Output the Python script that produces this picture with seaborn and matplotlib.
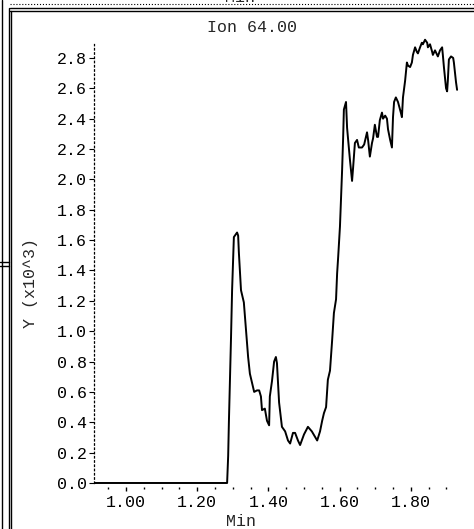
#!/usr/bin/env python
# coding=utf-8
import numpy as np
import matplotlib
matplotlib.use('Agg')
import matplotlib.pyplot as plt
from matplotlib.lines import Line2D
from matplotlib.ticker import MultipleLocator, FormatStrFormatter
import seaborn as sns


# retention time (min) and abundance (x10^3)
TIME = [0.910, 1.284, 1.287, 1.289, 1.295, 1.298, 1.303, 1.312, 1.315, 1.317,
        1.323, 1.331, 1.337, 1.343, 1.348, 1.354, 1.360, 1.368, 1.374, 1.379,
        1.382, 1.390, 1.396, 1.402, 1.404, 1.410, 1.416, 1.421, 1.424, 1.430,
        1.438, 1.447, 1.455, 1.461, 1.469, 1.475, 1.483, 1.489, 1.500, 1.511,
        1.522, 1.537, 1.545, 1.551, 1.556, 1.562, 1.567, 1.573, 1.579, 1.584,
        1.590, 1.593, 1.596, 1.601, 1.607, 1.610, 1.612, 1.618, 1.621, 1.624,
        1.629, 1.635, 1.638, 1.643, 1.649, 1.654, 1.663, 1.669, 1.677, 1.680,
        1.685, 1.691, 1.694, 1.699, 1.705, 1.708, 1.713, 1.719, 1.722, 1.728,
        1.733, 1.736, 1.742, 1.747, 1.750, 1.753, 1.758, 1.764, 1.772, 1.775,
        1.778, 1.784, 1.789, 1.792, 1.798, 1.803, 1.806, 1.812, 1.817, 1.820,
        1.826, 1.831, 1.834, 1.840, 1.846, 1.848, 1.854, 1.860, 1.862, 1.868,
        1.874, 1.876, 1.882, 1.888, 1.890, 1.893, 1.899, 1.902, 1.904, 1.907,
        1.913, 1.919, 1.921, 1.927, 1.930]
ABUND = [0.00, 0.00, 0.18, 0.40, 0.96, 1.27, 1.62, 1.65, 1.63, 1.52,
         1.27, 1.19, 1.01, 0.83, 0.72, 0.66, 0.60, 0.61, 0.61, 0.57,
         0.48, 0.49, 0.41, 0.38, 0.57, 0.67, 0.80, 0.83, 0.79, 0.53,
         0.37, 0.34, 0.28, 0.26, 0.33, 0.33, 0.28, 0.25, 0.32, 0.37,
         0.34, 0.28, 0.34, 0.41, 0.46, 0.50, 0.68, 0.74, 0.94, 1.12,
         1.21, 1.38, 1.49, 1.69, 2.06, 2.28, 2.46, 2.51, 2.34, 2.26,
         2.13, 1.99, 2.08, 2.24, 2.26, 2.21, 2.21, 2.23, 2.31, 2.26,
         2.15, 2.24, 2.27, 2.36, 2.28, 2.28, 2.39, 2.44, 2.40, 2.42,
         2.40, 2.33, 2.26, 2.21, 2.41, 2.51, 2.54, 2.51, 2.44, 2.41,
         2.54, 2.65, 2.77, 2.75, 2.74, 2.77, 2.82, 2.87, 2.84, 2.83,
         2.87, 2.90, 2.89, 2.92, 2.90, 2.87, 2.89, 2.84, 2.82, 2.85,
         2.82, 2.81, 2.85, 2.87, 2.82, 2.74, 2.60, 2.58, 2.65, 2.79,
         2.81, 2.80, 2.77, 2.64, 2.59]

TITLE = 'Ion 64.00'
XLABEL = 'Min'
YLABEL = 'Y (x10^3)'

W, H = 474, 529


def px(x, y):
    """pixel position -> figure fraction"""
    return x / W, 1 - y / H


def main():
    sns.set_style('white')
    plt.rcParams['font.family'] = ['Liberation Mono', 'DejaVu Sans Mono']
    plt.rcParams['font.size'] = 12

    fig = plt.figure(figsize=(W / 100, H / 100), dpi=100)
    # axes box in pixels: left 94, right 462, top 37, bottom 487
    ax = fig.add_axes([94 / W, 1 - 487 / H, 368 / W, 450 / H])

    sns.lineplot(x=TIME, y=ABUND, ax=ax, color='black', linewidth=1.4,
                 estimator=None, sort=False)

    ax.set_xlim(0.9101, 1.9438)
    ax.set_ylim(-0.0264, 2.938)

    ax.xaxis.set_major_locator(MultipleLocator(0.2))
    ax.xaxis.set_minor_locator(MultipleLocator(0.05))
    ax.xaxis.set_major_formatter(FormatStrFormatter('%.2f'))
    ax.yaxis.set_major_locator(MultipleLocator(0.2))
    ax.yaxis.set_major_formatter(FormatStrFormatter('%.1f'))

    for side in ['top', 'right', 'bottom']:
        ax.spines[side].set_visible(False)
    ax.spines['left'].set_linestyle((0, (1.2, 2.2)))
    ax.spines['left'].set_linewidth(0.9)
    ax.spines['left'].set_color('black')
    ax.spines['left'].set_bounds(0, 2.89)

    ax.tick_params(axis='y', which='major', direction='out', length=3.6,
                   width=0.8, pad=1.5, colors='black', labelsize=12, left=True)
    ax.tick_params(axis='x', which='major', direction='out', length=3.0,
                   width=1.0, pad=2.5, colors='black', labelsize=12, bottom=True)
    ax.tick_params(axis='x', which='minor', direction='out', length=1.5,
                   width=1.0, colors='black', bottom=True)
    ax.set_xlabel('')
    ax.set_ylabel('')

    fig.text(*px(252, 28), TITLE, ha='center', va='center', fontsize=12)
    fig.text(*px(241, 521), XLABEL, ha='center', va='center', fontsize=12)
    fig.text(*px(30, 283), YLABEL, ha='center', va='center', fontsize=12,
             rotation=90)
    # bottom edge of the label of the panel above
    fig.text(*px(240, -2), XLABEL, ha='center', va='center', fontsize=12)

    # window frame around the panel
    frame = [((10, 474), (8, 8), 1.0, '-'), ((10, 474), (11, 11), 1.0, '-'),
             ((10, 474), (4, 4), 0.8, ':'),
             ((9, 9), (8, 529), 1.0, '-'), ((11, 11), (11, 529), 1.0, '-'),
             ((2, 2), (0, 529), 1.0, '-'),
             ((0, 9), (262, 262), 1.0, '-'), ((0, 9), (266, 266), 1.0, '-')]
    for xs, ys, lw, ls in frame:
        fx = [x / W for x in xs]
        fy = [1 - y / H for y in ys]
        fig.add_artist(Line2D(fx, fy, color='black', linewidth=lw,
                              linestyle=ls, transform=fig.transFigure))

    fig.savefig('out.png', dpi=100, facecolor='white')


if __name__ == '__main__':
    main()
